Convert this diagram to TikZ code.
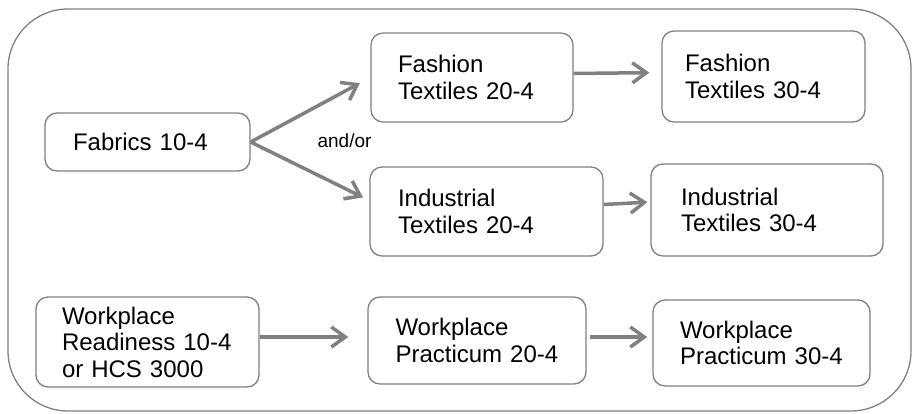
\documentclass[tikz,border=0pt]{standalone}
\usepackage{fontspec}
\setmainfont{Liberation Sans}
\usetikzlibrary{positioning, arrows.meta}
\definecolor{linegray}{RGB}{128,128,128}

\begin{document}
\begin{tikzpicture}[x=1pt, y=-1pt, ->, >={Straight Barb[length=14pt, width=20pt]},
    course/.style={draw=linegray, line width=1.3pt, rounded corners=12pt, align=left, inner ysep=0pt, font=\fontsize{24}{26.5}\selectfont},
    flow/.style={draw=linegray, line width=3.5pt}]
    \useasboundingbox (0,0) rectangle (913,413);
    \draw[-, linegray, line width=1.3pt, rounded corners=60pt] (8,9) rectangle (911,411);

    \node[course, minimum height=58pt, text width=149pt, inner xsep=28pt] (fab) at (147.5,142) {Fabrics 10-4};
    \node[course, minimum height=89pt, text width=148pt, inner xsep=27pt] (fash2) at (472,77.5) {Fashion\\Textiles 20-4};
    \node[course, minimum height=91pt, text width=157pt, inner xsep=23pt] (fash3) at (763.5,76.5) {Fashion\\Textiles 30-4};
    \node[course, minimum height=89pt, text width=177pt, inner xsep=28pt] (ind2) at (486.5,211.5) {Industrial\\Textiles 20-4};
    \node[course, minimum height=92pt, text width=172pt, inner xsep=30pt] (ind3) at (767,210) {Industrial\\Textiles 30-4};
    \node[course, minimum height=90pt, text width=171pt, inner xsep=26pt] (wr) at (147.5,342) {Workplace\\Readiness 10-4\\or HCS 3000};
    \node[course, minimum height=87pt, text width=163pt, inner xsep=27.5pt] (wp2) at (477,340.5) {Workplace\\Practicum 20-4};
    \node[course, minimum height=86pt, text width=163pt, inner xsep=27pt] (wp3) at (761.5,343) {Workplace\\Practicum 30-4};
    \node[font=\fontsize{19}{22}\selectfont] (andor) at (344.5,141) {and/or};

    % arrows between the courses
    \draw[flow, shorten >=12pt] (fab.east) -- (fash2.west);
    \draw[flow, shorten >=7pt] (fab.east) -- ([yshift=11pt]ind2.west);
    \draw[flow, shorten >=12pt] ([yshift=4pt]fash2.east) -- ([yshift=4pt]fash3.west);
    \draw[flow, shorten >=3pt] ([yshift=7pt]ind2.east) -- ([yshift=8pt]ind3.west);
    \draw[flow, shorten >=19pt] ([yshift=5pt]wr.east) -- ([yshift=3.5pt]wp2.west);
    \draw[flow, shorten <=3pt, shorten >=5pt] ([yshift=3.5pt]wp2.east) -- ([yshift=6pt]wp3.west);
\end{tikzpicture}
\end{document}
